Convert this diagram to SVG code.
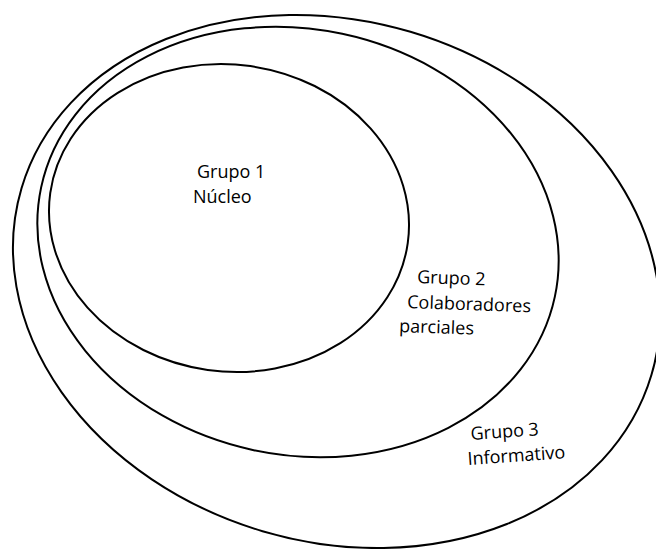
<svg xmlns="http://www.w3.org/2000/svg" width="656" height="549" viewBox="0 0 656 549">
<style>
.ring{fill:none;stroke:#000;stroke-width:2}
.lbl{font-family:"Open Sans","Noto Sans","Liberation Sans",sans-serif;font-size:18px;fill:#000}
</style>
<rect width="656" height="549" fill="#fff"/>
<g id="grupo3">
<ellipse class="ring" cx="336.5" cy="281.5" rx="328.5" ry="260.4" transform="rotate(16.5 336.5 281.5)"/>
<text class="lbl" transform="rotate(-4 471 440)" x="471" y="440">Grupo 3</text>
<text class="lbl" transform="rotate(-4 468 465)" x="468" y="465">Informativo</text>
</g>
<g id="grupo2">
<ellipse class="ring" cx="298" cy="242" rx="262.6" ry="212.8" transform="rotate(12 298 242)"/>
<text class="lbl" transform="rotate(2 417 283)" x="417" y="283">Grupo 2</text>
<text class="lbl" transform="rotate(2 407 308)" x="407" y="308">Colaboradores</text>
<text class="lbl" transform="rotate(2 399 332)" x="399" y="332">parciales</text>
</g>
<g id="grupo1">
<ellipse class="ring" cx="229" cy="218" rx="180.5" ry="153.4" transform="rotate(8 229 218)"/>
<text class="lbl" x="197" y="178">Grupo 1</text>
<text class="lbl" x="193" y="203">Núcleo</text>
</g>
<g id="connectors"/>
</svg>
